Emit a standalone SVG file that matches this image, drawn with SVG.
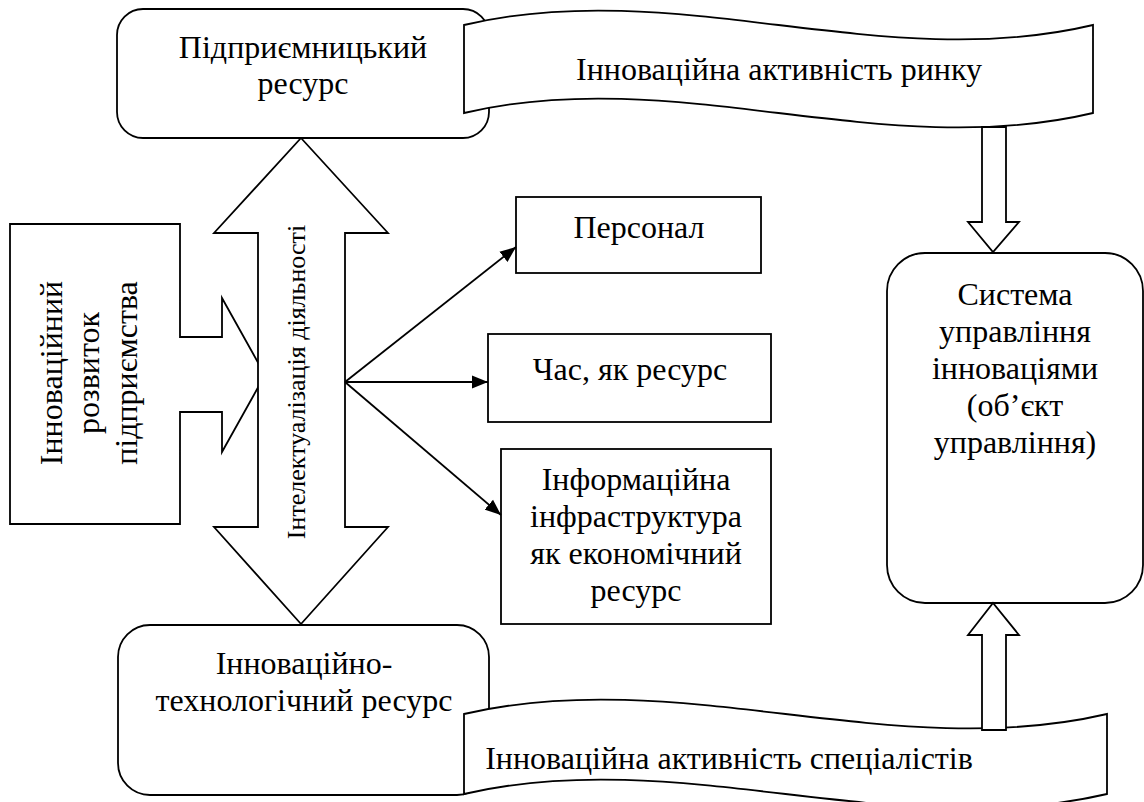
<svg xmlns="http://www.w3.org/2000/svg" width="1144" height="802" viewBox="0 0 1144 802" font-family="Liberation Serif, DejaVu Serif, serif">
<style>
.s{fill:#fff;stroke:#000;stroke-width:1.8;stroke-linejoin:miter}
text{font-family:'Liberation Serif','DejaVu Serif',serif;font-size:32px;fill:#000;text-anchor:middle}
.v{font-size:26px}
.c{stroke:#000;stroke-width:1.8;fill:none}
</style>
<defs>
<marker id="ah" markerUnits="userSpaceOnUse" markerWidth="16" markerHeight="14" refX="16" refY="7" orient="auto">
<path d="M0,0.5 L16,7 L0,13.5 Z" fill="#000"/>
</marker>
</defs>
<rect width="1144" height="802" fill="#fff"/>

<g id="left-node">
<path class="s" d="M10,224 H180 V337 H222 V298 L265,375 L222,452 V412 H180 V524 H10 Z"/>
<g transform="translate(0,373) rotate(-90)">
<text x="0" y="62">Інноваційний</text>
<text x="0" y="99">розвиток</text>
<text x="0" y="137">підприємства</text>
</g>
</g>

<g id="top-box">
<rect class="s" x="117" y="9" width="372" height="129" rx="26" ry="26"/>
<text x="303" y="58">Підприємницький</text>
<text x="303" y="94">ресурс</text>
</g>

<g id="bottom-box">
<rect class="s" x="118" y="625" width="371" height="170" rx="32" ry="32"/>
<text x="304" y="674">Інноваційно-</text>
<text x="304" y="711">технологічний ресурс</text>
</g>

<g id="double-arrow">
<path class="s" d="M301,138 L388,233 H345 V527 H388 L301,624 L214,527 H258 V233 H214 Z"/>
<text class="v" transform="translate(305,382) rotate(-90)" x="0" y="0">Інтелектуалізація діяльності</text>
</g>

<g id="top-banner">
<path class="s" d="M464,25 C674,-25 883,75 1093,25 L1093,113 C883,163 674,63 464,113 Z"/>
<text x="779" y="80">Інноваційна активність ринку</text>
</g>

<g id="bottom-banner">
<path class="s" d="M464,714 C678,664 893,764 1107,714 L1107,794 C893,844 678,744 464,794 Z"/>
<text x="729" y="769">Інноваційна активність спеціалістів</text>
</g>

<g id="personal">
<rect class="s" x="516" y="197" width="245" height="76"/>
<text x="639" y="238">Персонал</text>
</g>

<g id="time">
<rect class="s" x="488" y="334" width="283" height="88"/>
<text x="630" y="380">Час, як ресурс</text>
</g>

<g id="info">
<rect class="s" x="501" y="449" width="270" height="175"/>
<text x="636" y="490">Інформаційна</text>
<text x="636" y="527">інфраструктура</text>
<text x="636" y="564">як економічний</text>
<text x="636" y="601">ресурс</text>
</g>

<g id="system">
<rect class="s" x="887" y="253" width="256" height="350" rx="38" ry="38"/>
<text x="1015" y="305">Система</text>
<text x="1015" y="342">управління</text>
<text x="1015" y="379">інноваціями</text>
<text x="1015" y="416">(об’єкт</text>
<text x="1015" y="453">управління)</text>
</g>

<g id="connectors">
<line class="c" x1="345" y1="382" x2="516" y2="247" marker-end="url(#ah)"/>
<line class="c" x1="345" y1="382" x2="488" y2="382" marker-end="url(#ah)"/>
<line class="c" x1="345" y1="382" x2="501" y2="515" marker-end="url(#ah)"/>
<path class="s" d="M982,127 H1006 V222 H1019 L993,252 L968,222 H982 Z"/>
<path class="s" d="M982,730 H1006 V635 H1019 L993,603 L968,635 H982 Z"/>
</g>
</svg>
